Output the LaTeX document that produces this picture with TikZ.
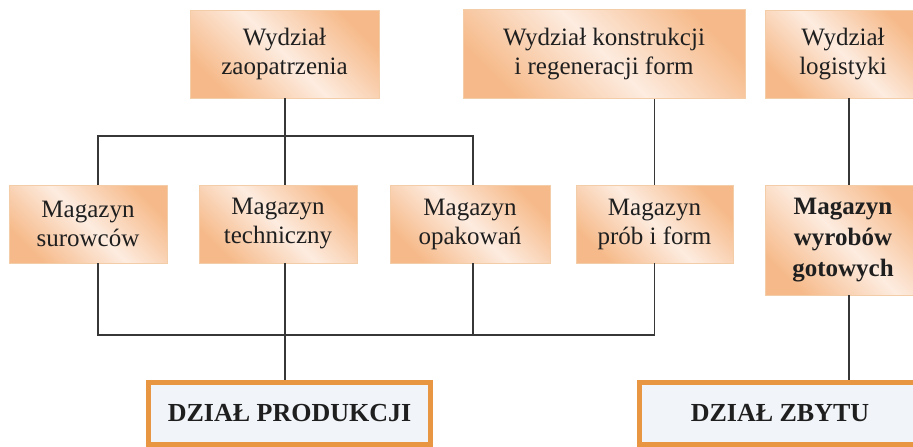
\documentclass[tikz,border=0pt]{standalone}
\usepackage{fontspec}
\setmainfont{Liberation Serif}
\definecolor{org}{RGB}{246,186,138}
\definecolor{lite}{RGB}{253,236,224}
\definecolor{edge}{RGB}{243,205,168}
\definecolor{bord}{RGB}{232,150,65}
\definecolor{pale}{RGB}{241,244,248}
\definecolor{ln}{RGB}{55,55,55}
\pgfdeclarehorizontalshading{boxshade}{100bp}{color(0bp)=(org); color(25bp)=(org); color(50bp)=(lite); color(75bp)=(org); color(100bp)=(org)}
\begin{document}
\begin{tikzpicture}[x=1pt,y=-1pt,
  box/.style={draw=edge, line width=0.8pt, shading=boxshade, shading angle=45,
    align=center, inner sep=0pt, font=\fontsize{25}{29}\selectfont, text=black!88},
  dept/.style={draw=bord, line width=5pt, fill=pale, inner sep=0pt,
    font=\bfseries\fontsize{26}{29}\selectfont, text=black!88},
  conn/.style={draw=ln, line width=1.3pt}]
\useasboundingbox (0,0) rectangle (913,447);
\clip (0,0) rectangle (913,447);
% top row
\node[box, minimum width=189pt, minimum height=88pt] (zaop) at (284.5,54) {Wydział\\zaopatrzenia};
\node[box, minimum width=282pt, minimum height=89pt] (konst) at (604,54) {Wydział konstrukcji\\i regeneracji form};
\node[box, minimum width=156pt, minimum height=88pt] (logi) at (843,54) {Wydział\\logistyki};
% middle row
\node[box, minimum width=158pt, minimum height=78pt] (sur) at (88,224) {Magazyn\\surowców};
\node[box, minimum width=158pt, minimum height=78pt] (tech) at (278,224) {Magazyn\\techniczny};
\node[box, minimum width=160pt, minimum height=78pt] (opak) at (470,224) {Magazyn\\opakowań};
\node[box, minimum width=157pt, minimum height=78pt] (prob) at (654.5,224) {Magazyn\\prób i form};
\node[box, minimum width=156pt, minimum height=110pt, font=\bfseries\fontsize{25}{31}\selectfont] (wyr) at (843,240) {Magazyn\\wyrobów\\gotowych};
% bottom row
\node[dept, minimum width=282pt, minimum height=62pt] (prod) at (289.5,413.5) {DZIAŁ PRODUKCJI};
\node[dept, minimum width=281pt, minimum height=62pt] (zbyt) at (780,413.5) {DZIAŁ ZBYTU};
% connectors
\coordinate (busL) at (98,136);
\coordinate (busR) at (473,136);
\coordinate (botL) at (98,335);
\coordinate (mx) at (285,0);
\coordinate (lx) at (849,0);
\draw[conn] (busL |- sur.north) -- (busL) -- (busR) -- (busR |- opak.north);
\draw[conn] (zaop.south -| mx) -- (tech.north -| mx);
\draw[conn] (konst.south -| prob.north) -- (prob.north);
\draw[conn] (logi.south -| lx) -- (wyr.north -| lx);
\draw[conn] (wyr.south -| lx) -- (zbyt.north -| lx);
\draw[conn] (botL |- sur.south) -- (botL) -- (botL -| prob.south) -- (prob.south);
\draw[conn] (tech.south -| mx) -- (prod.north -| mx);
\draw[conn] (opak.south -| busR) -- (busR |- botL);
\end{tikzpicture}
\end{document}
